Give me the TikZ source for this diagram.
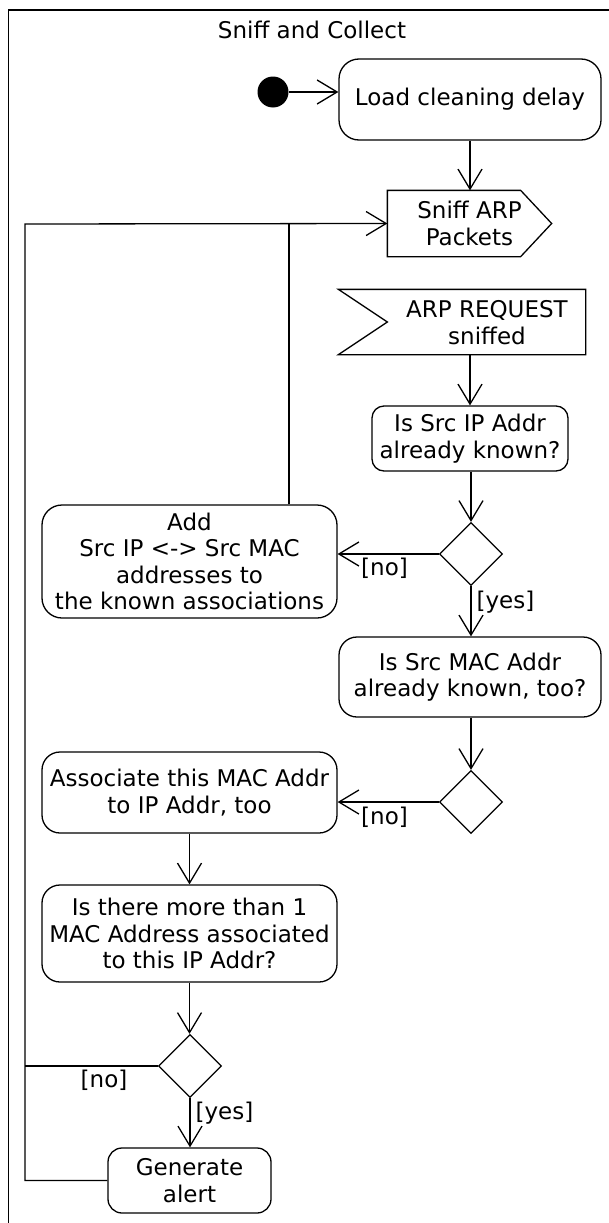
\documentclass[tikz,border=0pt]{standalone}
\usepackage{fontspec}
\setmainfont{DejaVu Sans}
\usetikzlibrary{arrows.meta,shapes.geometric}
\begin{document}
\begin{tikzpicture}[x=1pt,y=-1pt,line width=1.3pt,
  >={Straight Barb[length=20pt,width=24pt]},
  every node/.style={font=\fontsize{23}{26.6}\selectfont,inner sep=0pt},
  action/.style={draw,rounded corners=#1,align=center},
  action/.default=18pt,
  txt/.style={align=center},
  choice/.style={draw,diamond,minimum width=63pt,minimum height=63pt,inner sep=0pt},
  guard/.style={}]
\useasboundingbox (0,0) rectangle (609,1223);
\begin{scope}
\clip (0,0) rectangle (609,1223);
% activity frame
\draw (8.5,1260) -- (8.5,10) -- (660,10);
\end{scope}
\node (title) at (312,30) {Sniff and Collect};

% start
\node[action=20pt,minimum width=262pt,minimum height=81pt] (load) at (470,99.5) {Load cleaning delay};
\node[fill,circle,minimum size=31pt] (init) at (273,92) {};
\draw[->] (init.east) -- (init.east -| load.west);

% send signal
\node[txt,minimum width=163pt,minimum height=65pt] (sniff) at (469.5,223.5) {Sniff ARP\\Packets};
\draw (sniff.north west) -- ([xshift=-31pt]sniff.north east) -- (sniff.east)
      -- ([xshift=-31pt]sniff.south east) -- (sniff.south west) -- cycle;
\draw[->] (load.south) -- (load.south |- sniff.north);

% accept event
\node[minimum width=246pt,minimum height=64pt] (arp) at (462,322) {};
\draw (arp.north west) -- (arp.north east) -- (arp.south east) -- (arp.south west)
      -- ([xshift=49pt]arp.west) -- cycle;
\node[txt] (arptext) at (487,322.5) {ARP REQUEST\\sniffed};

\node[action=12pt,minimum width=196pt,minimum height=65pt] (ipq) at (470,438.5) {Is Src IP Addr\\already known?};
\draw[->] (arp.south -| ipq.north) -- (ipq.north);

\node[choice] (d1) at (471,554) {};
\draw[->] (ipq.south -| d1.north) -- (d1.north);
\node[action=20pt,minimum width=295pt,minimum height=113pt] (add) at (189.5,561.5)
  {Add\\Src IP <-> Src MAC\\addresses to\\the known associations};
\draw[->] (d1.west) -- (d1.west -| add.east);
\node[guard] (no1) at (384.5,568) {[no]};

\node[action,minimum width=262pt,minimum height=80pt] (macq) at (470,677) {Is Src MAC Addr\\already known, too?};
\draw[->] (d1.south) -- (d1.south |- macq.north);
\node[guard] (yes1) at (505.5,602) {[yes]};

\node[choice] (d2) at (471,802) {};
\draw[->] (macq.south -| d2.north) -- (d2.north);
\node[action,minimum width=295pt,minimum height=81pt] (assoc) at (189.5,792.5) {Associate this MAC Addr\\to IP Addr, too};
\draw[->] (d2.west) -- (d2.west -| assoc.east);
\node[guard] (no2) at (384.5,817) {[no]};

\node[action,minimum width=295pt,minimum height=97pt] (multi) at (189.5,933.5)
  {Is there more than 1\\MAC Address associated\\to this IP Addr?};
\draw[->] (assoc.south) -- (multi.north);

\node[choice] (d3) at (190,1066) {};
\draw[->] (multi.south) -- (multi.south |- d3.north);
\node[action=14pt,minimum width=163pt,minimum height=65pt] (gen) at (189.5,1180.5) {Generate\\alert};
\draw[->] (d3.south) -- (d3.south |- gen.north);
\node[guard] (yes3) at (224.5,1113) {[yes]};
\node[guard] (no3) at (104,1080) {[no]};

% loops back to sniffing
\coordinate (loop) at (25,224);
\coordinate (join) at (289,224);
\draw[->] (gen.west) -| (loop) -- (sniff.west);
\draw (d3.west) -- (d3.west -| loop);
\draw (join |- add.north) -- (join);
\end{tikzpicture}
\end{document}
